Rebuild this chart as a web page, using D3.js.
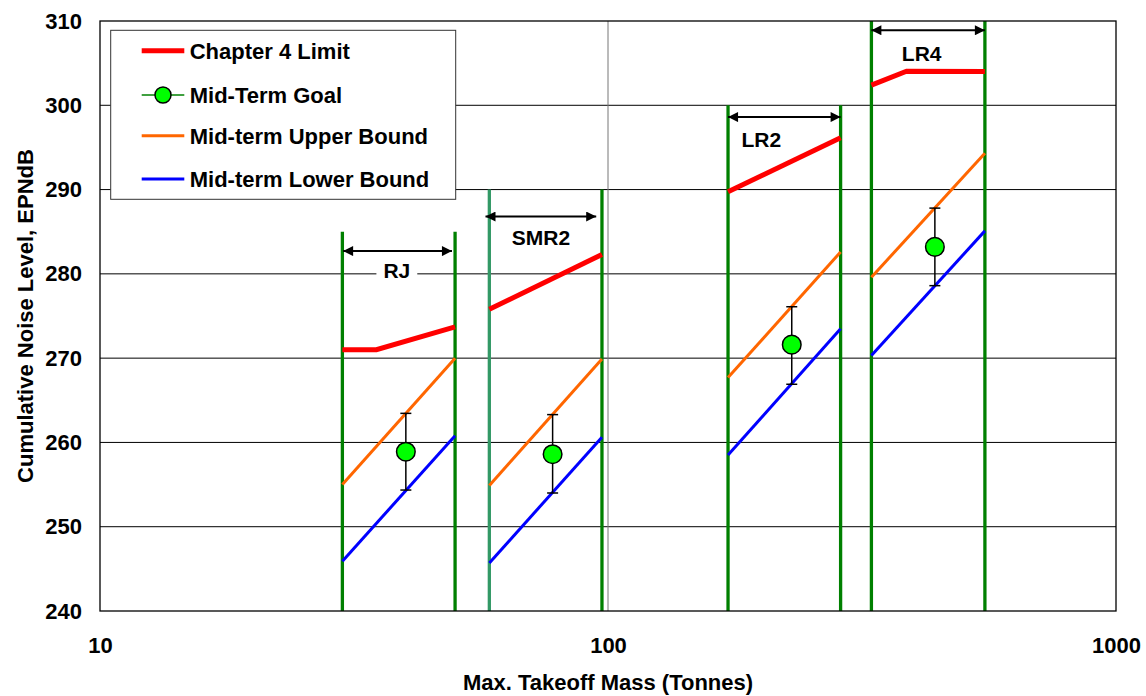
<!DOCTYPE html>
<html>
<head>
<meta charset="utf-8">
<script src="https://cdn.jsdelivr.net/npm/d3@7"></script>
<style>
  html, body { margin: 0; padding: 0; background: #fff; }
  svg text { font-family: Arial, "Liberation Sans", sans-serif; font-weight: bold; fill: #000; }
</style>
</head>
<body>
<svg id="chart" width="1146" height="696"></svg>
<script>
// Aircraft size categories and their mass ranges (tonnes)
const categories = ["RJ", "SMR2", "LR2", "LR4"];
const massLow  = [30, 58.4, 172.3, 330];
const massHigh = [50, 97.3, 287, 552];
// Top of each category boundary line (EPNdB)
const boundaryTop = [285, 290, 300, 310];

// Chapter 4 limit, one polyline per category: [mass, level]
const chapter4 = [
  [[30, 271.0], [35, 271.0], [50, 273.7]],
  [[58.4, 275.8], [97.3, 282.3]],
  [[172.3, 289.75], [287, 296.15]],
  [[330, 302.4], [387, 304.05], [552, 304.0]]
];
// Mid-term bounds at the ends of each category range
const upperAtLow  = [255.0, 254.9, 267.7, 279.6];
const upperAtHigh = [270.0, 269.9, 282.6, 294.3];
const lowerAtLow  = [245.9, 245.7, 258.5, 270.3];
const lowerAtHigh = [260.8, 260.6, 273.5, 285.1];

// Mid-term goals with their ranges
const goalMass  = [40, 77.8, 230, 440];
const goalLevel = [258.9, 258.6, 271.6, 283.2];
const goalHigh  = [263.45, 263.3, 276.1, 287.8];
const goalLow   = [254.35, 254.0, 266.9, 278.6];

// Range arrows and their labels
const arrowFrom  = [30.1, 57.4, 172.3, 330];
const arrowTo    = [49.3, 94.8, 287, 552];
const arrowLevel = [282.7, 286.8, 298.6, 308.9];
const labelMass  = [38.4, 73.8, 200.4, 414.5];
const labelLevel = [279.55, 283.4, 295.0, 305.3];

// Axes
const xTicks = [10, 100, 1000];
const yTicks = [240, 250, 260, 270, 280, 290, 300, 310];
const xTitle = "Max. Takeoff Mass (Tonnes)";
const yTitle = "Cumulative Noise Level, EPNdB";
const legendItems = ["Chapter 4 Limit", "Mid-Term Goal", "Mid-term Upper Bound", "Mid-term Lower Bound"];

const svg = d3.select("#chart");
const plotLeft = 100, plotRight = 1116, plotTop = 21, plotBottom = 611;
const x = d3.scaleLog().domain([10, 1000]).range([plotLeft, plotRight]);
const y = d3.scaleLinear().domain([240, 310]).range([plotBottom, plotTop]);

const COLORS = { red: "#ff0000", orange: "#ff6600", blue: "#0000ff", green: "#008000", sea: "#339966", goal: "#00ff00" };
const FONT = 22;

// Horizontal gridlines
svg.append("g").selectAll("line")
  .data(yTicks.slice(1, -1))
  .join("line")
  .attr("x1", plotLeft).attr("x2", plotRight)
  .attr("y1", d => y(d)).attr("y2", d => y(d))
  .attr("stroke", "#000").attr("stroke-width", 1);

// Decade gridline
svg.append("line")
  .attr("x1", x(100)).attr("x2", x(100))
  .attr("y1", plotTop).attr("y2", plotBottom)
  .attr("stroke", "#777").attr("stroke-width", 1);

// Y axis labels
const yAxis = d3.axisLeft(y).tickValues(yTicks).tickSize(0).tickPadding(plotLeft - 82);
const gy = svg.append("g").attr("transform", `translate(${plotLeft},0)`).call(yAxis);
gy.select(".domain").remove();
gy.selectAll("text").style("font-size", FONT + "px").attr("font-family", null);

// X axis labels
const xAxis = d3.axisBottom(x).tickValues(xTicks).tickFormat(d3.format("d")).tickSize(0).tickPadding(26);
const gx = svg.append("g").attr("transform", `translate(0,${plotBottom})`).call(xAxis);
gx.select(".domain").remove();
gx.selectAll("text").style("font-size", FONT + "px").attr("font-family", null);

// Axis titles
svg.append("text")
  .attr("x", (plotLeft + plotRight) / 2).attr("y", 690)
  .attr("text-anchor", "middle")
  .style("font-size", FONT + "px")
  .text(xTitle);
svg.append("text")
  .attr("transform", `translate(33,${(plotTop + plotBottom) / 2}) rotate(-90)`)
  .attr("text-anchor", "middle")
  .style("font-size", FONT + "px")
  .text(yTitle);

// Category boundary lines
const bounds = [];
categories.forEach((c, i) => {
  bounds.push({ m: massLow[i], top: boundaryTop[i], color: i === 1 ? COLORS.sea : COLORS.green });
  bounds.push({ m: massHigh[i], top: boundaryTop[i], color: COLORS.green });
});
svg.append("g").selectAll("line")
  .data(bounds)
  .join("line")
  .attr("x1", d => x(d.m)).attr("x2", d => x(d.m))
  .attr("y1", d => y(d.top)).attr("y2", y(240))
  .attr("stroke", d => d.color).attr("stroke-width", 3.3);

const line = d3.line().x(d => x(d[0])).y(d => y(d[1]));

// Mid-term upper and lower bounds
const upper = categories.map((c, i) => [[massLow[i], upperAtLow[i]], [massHigh[i], upperAtHigh[i]]]);
const lower = categories.map((c, i) => [[massLow[i], lowerAtLow[i]], [massHigh[i], lowerAtHigh[i]]]);
svg.append("g").selectAll("path").data(upper).join("path")
  .attr("d", line).attr("fill", "none").attr("stroke", COLORS.orange).attr("stroke-width", 3);
svg.append("g").selectAll("path").data(lower).join("path")
  .attr("d", line).attr("fill", "none").attr("stroke", COLORS.blue).attr("stroke-width", 3);

// Chapter 4 limit
svg.append("g").selectAll("path").data(chapter4).join("path")
  .attr("d", line).attr("fill", "none").attr("stroke", COLORS.red).attr("stroke-width", 5);

// Goals with ranges
const goals = categories.map((c, i) => ({ m: goalMass[i], v: goalLevel[i], hi: goalHigh[i], lo: goalLow[i] }));
const gGoal = svg.append("g");
gGoal.selectAll("line.bar").data(goals).join("line")
  .attr("class", "bar")
  .attr("x1", d => x(d.m)).attr("x2", d => x(d.m))
  .attr("y1", d => y(d.hi)).attr("y2", d => y(d.lo))
  .attr("stroke", "#000").attr("stroke-width", 1.5);
["hi", "lo"].forEach(k => {
  gGoal.selectAll("line.cap-" + k).data(goals).join("line")
    .attr("class", "cap-" + k)
    .attr("x1", d => x(d.m) - 5.5).attr("x2", d => x(d.m) + 5.5)
    .attr("y1", d => y(d[k])).attr("y2", d => y(d[k]))
    .attr("stroke", "#000").attr("stroke-width", 1.5);
});
gGoal.selectAll("circle").data(goals).join("circle")
  .attr("cx", d => x(d.m)).attr("cy", d => y(d.v)).attr("r", 9.3)
  .attr("fill", COLORS.goal).attr("stroke", "#000").attr("stroke-width", 1.5);

// Range arrows
const defs = svg.append("defs");
["start", "end"].forEach(kind => {
  defs.append("marker")
    .attr("id", "arrow-" + kind)
    .attr("viewBox", "0 0 10 10")
    .attr("refX", kind === "end" ? 10 : 0).attr("refY", 5)
    .attr("markerWidth", 11).attr("markerHeight", 10)
    .attr("markerUnits", "userSpaceOnUse")
    .attr("orient", "auto")
    .append("path")
    .attr("d", kind === "end" ? "M0,0 L10,5 L0,10 Z" : "M10,0 L0,5 L10,10 Z")
    .attr("fill", "#000");
});
const arrows = categories.map((c, i) => ({ a: arrowFrom[i], b: arrowTo[i], v: arrowLevel[i] }));
svg.append("g").selectAll("line").data(arrows).join("line")
  .attr("x1", d => x(d.a)).attr("x2", d => x(d.b))
  .attr("y1", d => y(d.v)).attr("y2", d => y(d.v))
  .attr("stroke", "#000").attr("stroke-width", 2)
  .attr("marker-start", "url(#arrow-start)")
  .attr("marker-end", "url(#arrow-end)");

// Category labels on a white backing
const labels = svg.append("g").selectAll("g").data(categories).join("g")
  .attr("transform", (c, i) => `translate(${x(labelMass[i])},${y(labelLevel[i])})`);
labels.append("text")
  .attr("text-anchor", "middle")
  .style("font-size", "21px")
  .text(d => d);
labels.each(function () {
  const g = d3.select(this);
  const bb = g.select("text").node().getBBox();
  g.insert("rect", "text")
    .attr("x", bb.x - 7).attr("y", bb.y).attr("width", bb.width + 14).attr("height", bb.height)
    .attr("fill", "#fff");
});

// Legend
const lg = svg.append("g");
lg.append("rect")
  .attr("x", 110.7).attr("y", 30.3).attr("width", 345).attr("height", 169)
  .attr("fill", "#fff").attr("stroke", "#333").attr("stroke-width", 1);
const legendY = [50.7, 95, 135.7, 179];
const legendStyle = [
  { color: COLORS.red, width: 5 },
  { color: COLORS.green, width: 1.5, marker: true },
  { color: COLORS.orange, width: 3 },
  { color: COLORS.blue, width: 3 }
];
legendItems.forEach((name, i) => {
  const s = legendStyle[i];
  const row = lg.append("g").attr("transform", `translate(0,${legendY[i]})`);
  row.append("line").attr("x1", 141.7).attr("x2", 184.3)
    .attr("stroke", s.color).attr("stroke-width", s.width);
  if (s.marker) {
    row.append("circle").attr("cx", 163).attr("cy", 0).attr("r", 8)
      .attr("fill", COLORS.goal).attr("stroke", "#000").attr("stroke-width", 1.5);
  }
  row.append("text").attr("x", 189.7).attr("dy", "0.36em")
    .style("font-size", FONT + "px").text(name);
});

// Plot frame
svg.append("rect")
  .attr("x", plotLeft).attr("y", plotTop).attr("width", plotRight - plotLeft).attr("height", plotBottom - plotTop)
  .attr("fill", "none").attr("stroke", "#000").attr("stroke-width", 1.3);
</script>
</body>
</html>
